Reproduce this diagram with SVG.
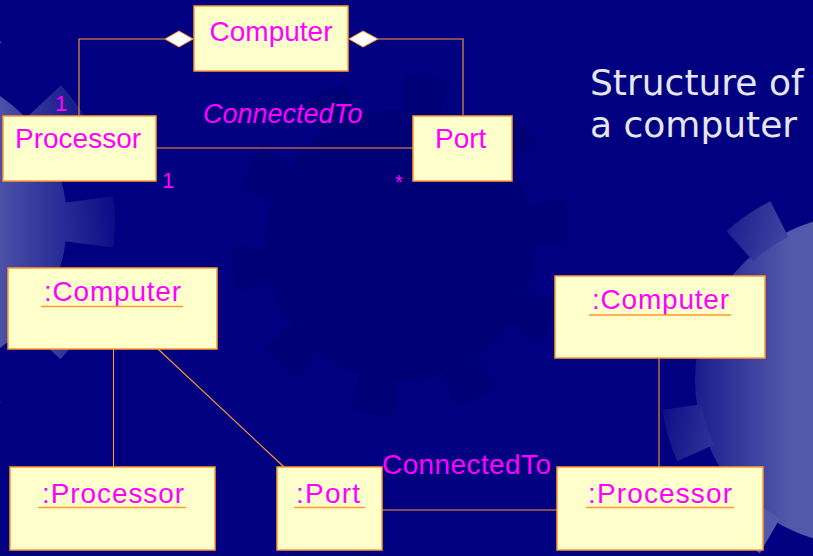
<svg xmlns="http://www.w3.org/2000/svg" width="813" height="556" viewBox="0 0 813 556">
<defs>
<linearGradient id="gR" gradientUnits="userSpaceOnUse" x1="650" y1="0" x2="790" y2="0">
<stop offset="0" stop-color="#000080"/><stop offset="1" stop-color="#5358aa"/>
</linearGradient>
<linearGradient id="gL" gradientUnits="userSpaceOnUse" x1="0" y1="0" x2="135" y2="0">
<stop offset="0" stop-color="#4b50a8"/><stop offset="1" stop-color="#000080"/>
</linearGradient>
<style>
.box{fill:#ffffcc;stroke:#ff9a2e;stroke-width:1.5}
.ln{stroke:#ff9a2e;stroke-width:1.1;fill:none}
.lbl{font-family:"Liberation Sans",Arial,sans-serif;fill:#ff00ff}
.ul{stroke:#ff9a2e;stroke-width:1.5}
.dia{fill:#ffffff;stroke:#ff9a2e;stroke-width:1}
</style>
</defs>
<rect width="813" height="556" fill="#000080"/>
<g id="background">
<g opacity="0.2">
<circle cx="400" cy="245" r="135" fill="#000050"/>
<circle cx="400" cy="245" r="150" fill="none" stroke="#000050" stroke-width="40" stroke-dasharray="40 54.2" transform="rotate(20 400 245)"/>
</g>
<circle cx="860" cy="380" r="165" fill="url(#gR)"/>
<circle cx="860" cy="380" r="180" fill="none" stroke="url(#gR)" stroke-width="40" stroke-dasharray="48 65.1" transform="rotate(12 860 380)"/>
<circle cx="-85" cy="222" r="152" fill="url(#gL)"/>
<circle cx="-85" cy="222" r="175" fill="none" stroke="url(#gL)" stroke-width="50" stroke-dasharray="45 65" transform="rotate(-7.4 -85 222)"/>
</g>
<g id="connectors">
<polyline class="ln" points="165,39 79,39 79,115"/>
<polyline class="ln" points="378,39 463,39 463,115"/>
<line class="ln" x1="156" y1="148" x2="413" y2="148"/>
<polygon class="dia" points="165,39 179,31 193,39 179,47"/>
<polygon class="dia" points="349,39 363,31 378,39 363,47"/>
<line class="ln" x1="113.5" y1="349" x2="113.5" y2="467"/>
<line class="ln" x1="158" y1="349" x2="284" y2="467"/>
<line class="ln" x1="659" y1="358" x2="659" y2="467"/>
<line class="ln" x1="382" y1="510" x2="557" y2="510"/>
</g>
<g id="labels">
<text class="lbl" x="203" y="123" font-size="27" font-style="italic">ConnectedTo</text>
<text class="lbl" x="55" y="111" font-size="22">1</text>
<text class="lbl" x="162" y="188" font-size="22">1</text>
<text class="lbl" x="395" y="189" font-size="20">*</text>
<text class="lbl" x="382" y="474" font-size="28" textLength="169" lengthAdjust="spacing">ConnectedTo</text>
</g>
<g id="title">
<text x="590" y="95" font-family="DejaVu Sans,Verdana,sans-serif" font-size="36" fill="#e6e6f0">Structure of</text>
<text x="590" y="137" font-family="DejaVu Sans,Verdana,sans-serif" font-size="36" fill="#e6e6f0">a computer</text>
</g>
<g id="Computer">
<rect class="box" x="194" y="6" width="154" height="65"/>
<text class="lbl" x="271" y="41" font-size="28" text-anchor="middle">Computer</text>
</g>
<g id="Processor">
<rect class="box" x="3" y="116" width="153" height="65"/>
<text class="lbl" x="15" y="148" font-size="28">Processor</text>
</g>
<g id="Port">
<rect class="box" x="413" y="116" width="99" height="65"/>
<text class="lbl" x="435" y="148" font-size="28">Port</text>
</g>
<g id="Computer1">
<rect class="box" x="8" y="268" width="209" height="81"/>
<text class="lbl" x="44" y="301" font-size="28" textLength="137" lengthAdjust="spacing">:Computer</text>
<line class="ul" x1="41" y1="306.5" x2="183" y2="306.5"/>
</g>
<g id="Computer2">
<rect class="box" x="555" y="276" width="210" height="82"/>
<text class="lbl" x="592" y="309" font-size="28" textLength="137" lengthAdjust="spacing">:Computer</text>
<line class="ul" x1="589" y1="315" x2="731" y2="315"/>
</g>
<g id="Processor1">
<rect class="box" x="10" y="467" width="205" height="83"/>
<text class="lbl" x="42" y="503" font-size="28" textLength="142" lengthAdjust="spacing">:Processor</text>
<line class="ul" x1="38" y1="507.5" x2="186" y2="507.5"/>
</g>
<g id="Port1">
<rect class="box" x="277" y="467" width="105" height="83"/>
<text class="lbl" x="296" y="503" font-size="28" textLength="64" lengthAdjust="spacing">:Port</text>
<line class="ul" x1="294" y1="507.5" x2="365" y2="507.5"/>
</g>
<g id="Processor2">
<rect class="box" x="557" y="467" width="206" height="83"/>
<text class="lbl" x="588" y="503" font-size="28" textLength="144" lengthAdjust="spacing">:Processor</text>
<line class="ul" x1="586" y1="507.5" x2="734" y2="507.5"/>
</g>
</svg>
